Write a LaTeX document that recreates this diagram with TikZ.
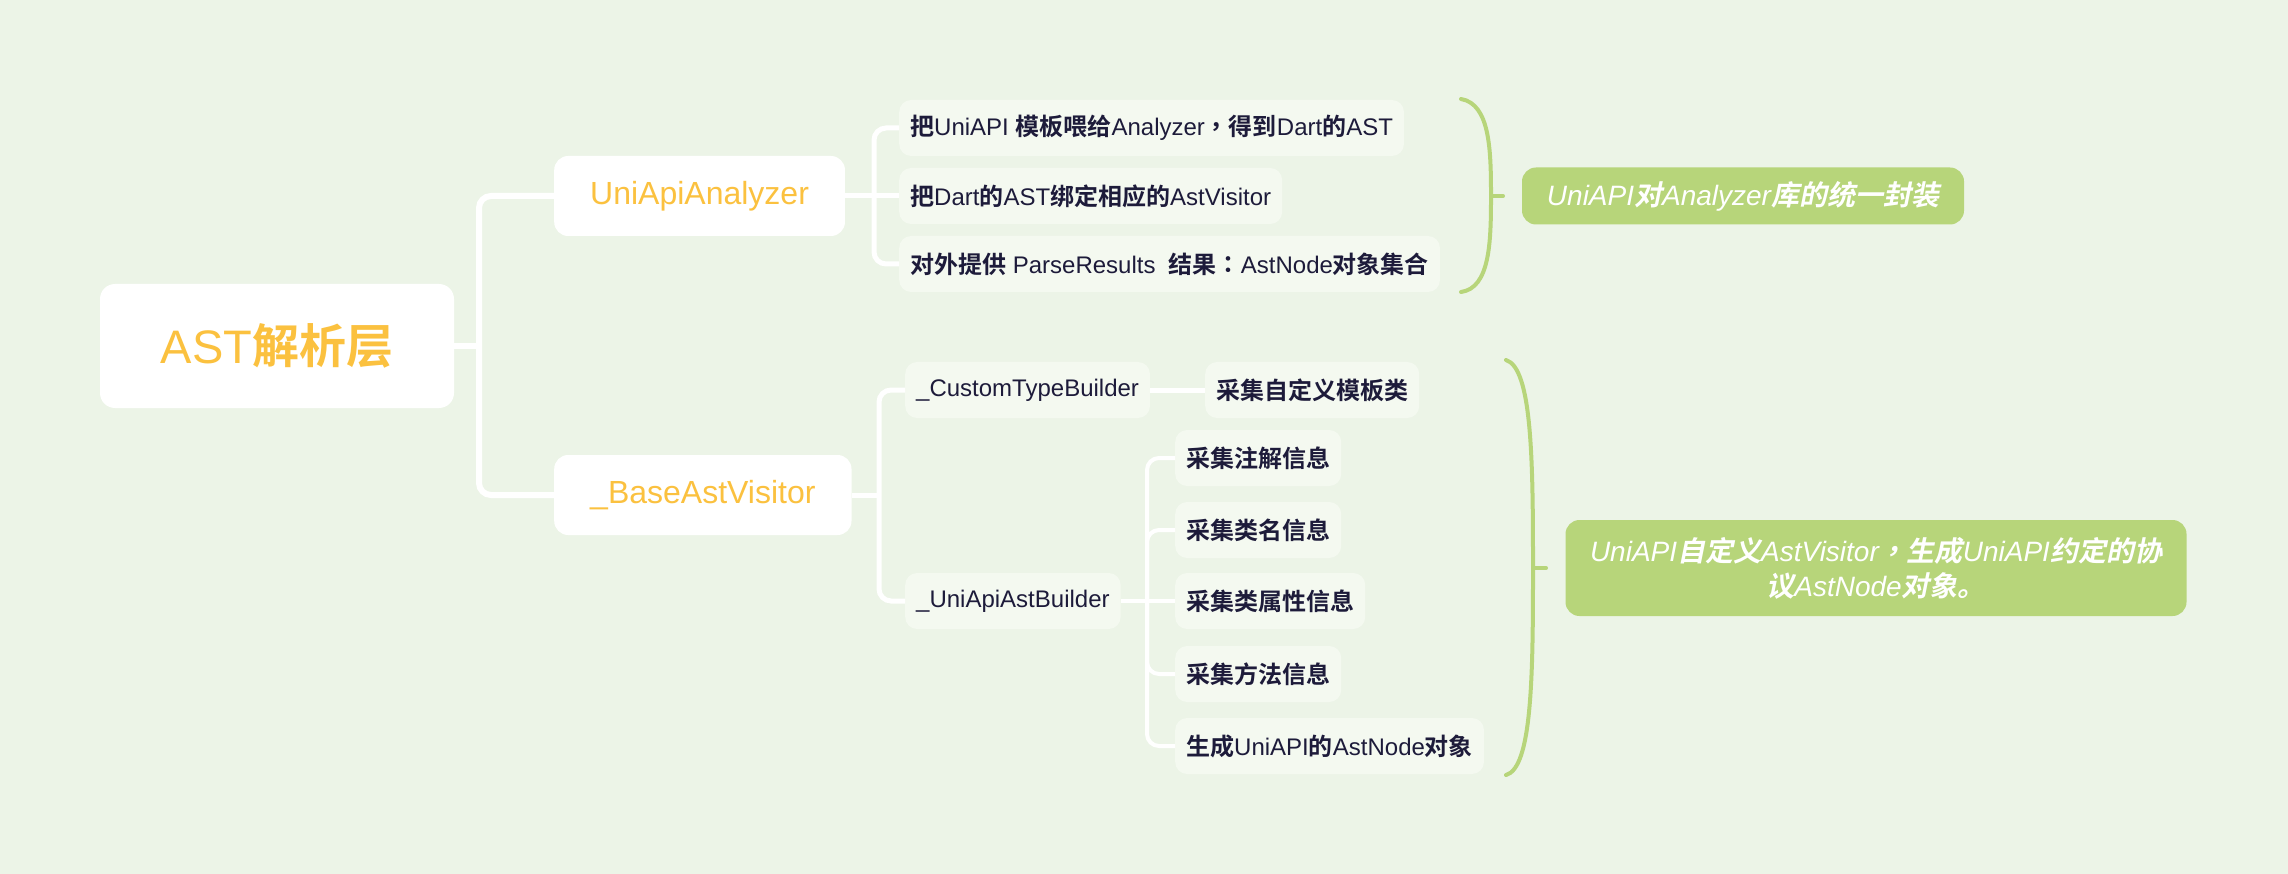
\documentclass[tikz,border=0pt]{standalone}
\usepackage{fontspec}
\setmainfont{Liberation Sans}
\newfontfamily\zhfont{Noto Sans CJK SC Bold}
\newfontfamily\zhslfont{Noto Sans CJK SC Bold}[FakeSlant=0.2]
\newfontfamily\zhpfont{Noto Sans CJK TC Bold}
\newfontfamily\zhpslfont{Noto Sans CJK TC Bold}[FakeSlant=0.2]
\newcommand{\zh}[1]{{\zhfont #1}}
\newcommand{\zhsl}[1]{{\zhslfont #1}}
\newcommand{\zhp}[1]{{\zhpfont #1}}
\newcommand{\zhpsl}[1]{{\zhpslfont #1}}
\usepackage{tikz}
\definecolor{bgc}{HTML}{ECF4E7}
\definecolor{leafc}{HTML}{F4F9F0}
\definecolor{orng}{HTML}{FBC13F}
\definecolor{ink}{HTML}{1D1B3A}
\definecolor{sumc}{HTML}{B7D57A}
\tikzset{
  rootbox/.style={fill=white, rounded corners=15, text=orng, minimum width=354, minimum height=124, font=\fontsize{47}{56}\selectfont},
  mainbox/.style={fill=white, rounded corners=14, text=orng, inner xsep=36, minimum height=80, anchor=west, font=\fontsize{32}{38}\selectfont},
  leaf/.style={fill=leafc, rounded corners=12, text=ink, inner xsep=11, minimum height=56, anchor=west, font=\fontsize{24}{29}\selectfont},
  sumbox/.style={fill=sumc, rounded corners=14, text=white, align=center, font=\fontsize{28}{35}\selectfont\itshape},
  link/.style={draw=white, line width=6, rounded corners=12},
  brace/.style={draw=sumc, line width=4, line cap=round},
}

\begin{document}
\begin{tikzpicture}[x=1pt, y=-1pt]
\fill[bgc] (0,0) rectangle (2288,874);
\useasboundingbox (0,0) rectangle (2288,874);

% root and main branches
\node[rootbox] (root) at (277,346) {AST\zh{解析层}};
\node[mainbox] (ana) at (554,196) {UniApiAnalyzer};
\node[mainbox] (vis) at (554,495) {\_BaseAstVisitor};

% UniApiAnalyzer
\node[leaf] (a1) at (899,128) {\zh{把}UniAPI \zh{模板喂给}Analyzer\zhp{，}\zh{得到}Dart\zh{的}AST};
\node[leaf] (a2) at (899,196) {\zh{把}Dart\zh{的}AST\zh{绑定相应的}AstVisitor};
\node[leaf] (a3) at (899,264) {\zh{对外提供} ParseResults\ \ \zh{结果}\zhp{：}AstNode\zh{对象集合}};

% _BaseAstVisitor
\node[leaf] (ct) at (905,390) {\_CustomTypeBuilder};
\node[leaf] (cls) at (1205,390) {\zh{采集自定义模板类}};
\node[leaf] (ub) at (905,601) {\_UniApiAstBuilder};
\node[leaf] (u1) at (1175,458) {\zh{采集注解信息}};
\node[leaf] (u2) at (1175,530) {\zh{采集类名信息}};
\node[leaf] (u3) at (1175,601) {\zh{采集类属性信息}};
\node[leaf] (u4) at (1175,674) {\zh{采集方法信息}};
\node[leaf] (u5) at (1175,746) {\zh{生成}UniAPI\zh{的}AstNode\zh{对象}};

% summaries
\node[sumbox, minimum width=442, minimum height=57] (s1) at (1743,196) {UniAPI\zhsl{对}Analyzer\zhsl{库的统一封装}};
\node[sumbox, minimum width=621, minimum height=96] (s2) at (1876,568) {UniAPI\zhsl{自定义}AstVisitor\zhpsl{，}\zhsl{生成}UniAPI\zhsl{约定的协}\\\zhsl{议}AstNode\zhsl{对象。}};

% links
\coordinate (t0) at (479,346);
\draw[link] (root.east) -- (t0);
\draw[link] (ana.west) -| (t0) |- (vis.west);

\coordinate (a0) at (874,196);
\draw[link, line width=5] (ana.east) -- (a0) -- (a2.west);
\draw[link, line width=5] (a1.west) -| (a0) |- (a3.west);

\coordinate (v0) at (879,495);
\draw[link, line width=5] (vis.east) -- (v0);
\draw[link, line width=5] (ct.west) -| (v0) |- (ub.west);
\draw[link, line width=5] (ct.east) -- (cls.west);

\coordinate (u0) at (1147,601);
\draw[link, line width=4] (ub.east) -- (u0) -- (u3.west);
\draw[link, line width=4] (u1.west) -| (u0) |- (u5.west);
\draw[link, line width=4] (u2.west) -| (u0);
\draw[link, line width=4] (u4.west) -| (u0);

% summary braces
\draw[brace] (1461,99) .. controls (1490,104) and (1491,150) .. (1491,196) .. controls (1491,242) and (1490,288) .. (1461,292);
\draw[brace] (1491,196) -- (1503,196);
\draw[brace] (1506,360) .. controls (1532,368) and (1533,460) .. (1533,568) .. controls (1533,676) and (1532,768) .. (1506,775);
\draw[brace] (1533,568) -- (1546,568);
\end{tikzpicture}
\end{document}
